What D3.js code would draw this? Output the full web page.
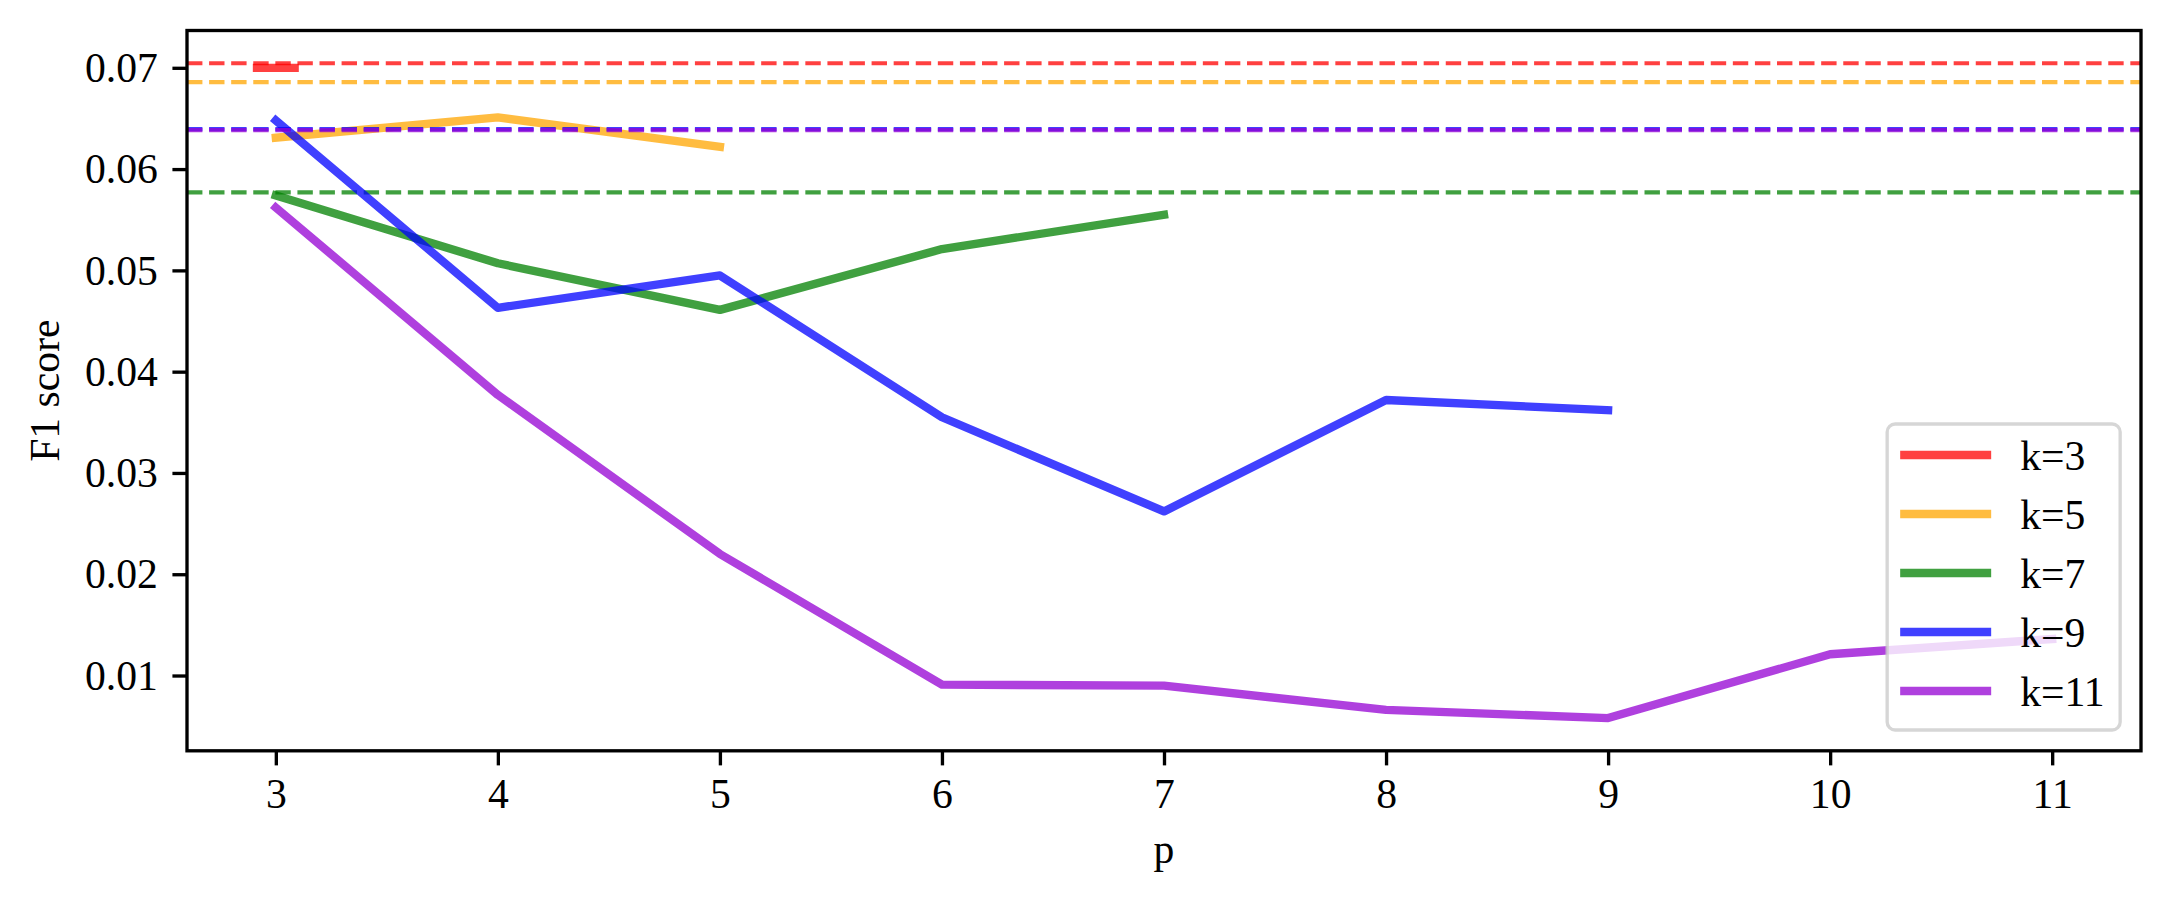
<!DOCTYPE html>
<html>
<head>
<meta charset="utf-8">
<script src="https://cdn.jsdelivr.net/npm/d3@7"></script>
<style>
  html, body { margin: 0; padding: 0; background: #fff; }
  svg { display: block; font-family: "Liberation Serif", "Times New Roman", serif; }
</style>
</head>
<body>
<svg id="chart" width="2169" height="902"></svg>
<script>
// ---- data ----
const pValues = [3, 4, 5, 6, 7, 8, 9, 10, 11];
const seriesLabels = ["k=3", "k=5", "k=7", "k=9", "k=11"];
const seriesColors = ["red", "orange", "green", "blue", "darkviolet"];
const k3 = [0.0700];
const k5 = [0.0631, 0.0651, 0.0622];
const k7 = [0.0574, 0.0507, 0.0461, 0.0521, 0.0555];
const k9 = [0.0648, 0.0463, 0.0495, 0.0355, 0.0262, 0.0372, 0.0362];
const k11 = [0.0562, 0.0377, 0.0220, 0.0091, 0.0090, 0.0066, 0.0058, 0.0121, 0.0136];
const baselineValues = [0.07045, 0.06858, 0.0577, 0.06395, 0.06385];
const yTickValues = [0.01, 0.02, 0.03, 0.04, 0.05, 0.06, 0.07];
const xTickValues = [3, 4, 5, 6, 7, 8, 9, 10, 11];
const xLabel = "p";
const yLabel = "F1 score";

const seriesValues = [k3, k5, k7, k9, k11];

// ---- layout ----
const W = 2169, H = 902;
const margin = { left: 187, top: 30.5, right: 28, bottom: 151.2 };
const pw = W - margin.left - margin.right;
const ph = H - margin.top - margin.bottom;
const PT = 300 / 72;           // px per point (300 dpi)
const fontPx = 10 * PT;
const lwSolid = 2 * PT, lwDash = 1 * PT, lwSpine = 0.8 * PT;
const tickLen = 3.5 * PT, tickPad = 3.5 * PT;

const svg = d3.select("#chart");
const g = svg.append("g").attr("transform", `translate(${margin.left},${margin.top})`);

// ---- scales (matplotlib-like 5% margins) ----
const xExt = d3.extent(pValues);
const xPad = (xExt[1] - xExt[0]) * 0.05;
const x = d3.scaleLinear().domain([xExt[0] - xPad, xExt[1] + xPad]).range([0, pw]);
const allY = seriesValues.flat().concat(baselineValues);
const yExt = d3.extent(allY);
const yPad = (yExt[1] - yExt[0]) * 0.05;
const y = d3.scaleLinear().domain([yExt[0] - yPad, yExt[1] + yPad]).range([ph, 0]);

// clip
svg.append("defs").append("clipPath").attr("id", "plotclip")
  .append("rect").attr("x", 0).attr("y", 0).attr("width", pw).attr("height", ph);

const plot = g.append("g").attr("clip-path", "url(#plotclip)");
const line = d3.line().x(d => x(d.p)).y(d => y(d.v));

seriesValues.forEach((vals, i) => {
  const pts = vals.map((v, j) => ({ p: pValues[j], v }));
  const col = seriesColors[i];
  if (pts.length > 1) {
    plot.append("path").datum(pts)
      .attr("d", line)
      .attr("fill", "none")
      .attr("stroke", col)
      .attr("stroke-opacity", 0.75)
      .attr("stroke-width", lwSolid)
      .attr("stroke-linejoin", "round")
      .attr("stroke-linecap", "square");
  } else {
    // single-point series: short horizontal mark centred on the point
    plot.append("line")
      .attr("x1", x(pts[0].p) - 23 + lwSolid / 2).attr("x2", x(pts[0].p) + 23 - lwSolid / 2)
      .attr("y1", y(pts[0].v)).attr("y2", y(pts[0].v))
      .attr("stroke", col).attr("stroke-opacity", 0.75)
      .attr("stroke-width", lwSolid).attr("stroke-linecap", "square");
  }
  plot.append("line")
    .attr("x1", 0).attr("x2", pw)
    .attr("y1", y(baselineValues[i])).attr("y2", y(baselineValues[i]))
    .attr("stroke", col).attr("stroke-opacity", 0.75)
    .attr("stroke-width", lwDash)
    .attr("stroke-dasharray", `${3.7 * lwDash},${1.6 * lwDash}`);
});

// ---- axes ----
const xAxis = d3.axisBottom(x).tickValues(xTickValues).tickFormat(d3.format("d"))
  .tickSizeInner(tickLen).tickSizeOuter(0).tickPadding(tickPad);
const yAxis = d3.axisLeft(y).tickValues(yTickValues).tickFormat(d3.format(".2f"))
  .tickSizeInner(tickLen).tickSizeOuter(0).tickPadding(tickPad);

const gx = g.append("g").attr("transform", `translate(0,${ph})`).call(xAxis);
const gy = g.append("g").call(yAxis);
[gx, gy].forEach(a => {
  a.select(".domain").remove();
  a.selectAll(".tick line").attr("stroke", "#000").attr("stroke-width", lwSpine);
  a.selectAll(".tick text").attr("fill", "#000")
    .style("font-family", '"Liberation Serif", "Times New Roman", serif')
    .style("font-size", fontPx + "px");
});
gx.selectAll(".tick text").attr("dy", "0.68em");
gy.selectAll(".tick text").attr("dy", "0.33em");

// spines
g.append("rect").attr("x", 0).attr("y", 0).attr("width", pw).attr("height", ph)
  .attr("fill", "none").attr("stroke", "#000").attr("stroke-width", lwSpine);

// axis labels
g.append("text").attr("x", pw / 2).attr("y", ph + 112)
  .attr("text-anchor", "middle").style("font-size", fontPx + "px").attr("fill", "#000")
  .text(xLabel);
svg.append("text")
  .attr("transform", `translate(59,${margin.top + ph / 2}) rotate(-90)`)
  .attr("text-anchor", "middle").style("font-size", fontPx + "px").attr("fill", "#000")
  .text(yLabel);

// ---- legend (lower right) ----
const legW = 233, legH = 306;
const legPad = 0.5 * fontPx;
const lg = g.append("g").attr("transform", `translate(${pw - legPad - legW},${ph - legPad - legH})`);
lg.append("rect").attr("x", 0).attr("y", 0).attr("width", legW).attr("height", legH)
  .attr("rx", 8).attr("ry", 8)
  .attr("fill", "#fff").attr("fill-opacity", 0.8)
  .attr("stroke", "#ccc").attr("stroke-opacity", 0.8).attr("stroke-width", lwSpine);
const rowStep = 59, row0 = 31;
seriesLabels.forEach((lab, i) => {
  const yy = row0 + i * rowStep;
  lg.append("line").attr("x1", 13).attr("x2", 104).attr("y1", yy).attr("y2", yy)
    .attr("stroke", seriesColors[i]).attr("stroke-opacity", 0.75)
    .attr("stroke-width", lwSolid);
  lg.append("text").attr("x", 133).attr("y", yy + 15)
    .style("font-size", fontPx + "px").attr("fill", "#000").text(lab);
});
</script>
</body>
</html>
